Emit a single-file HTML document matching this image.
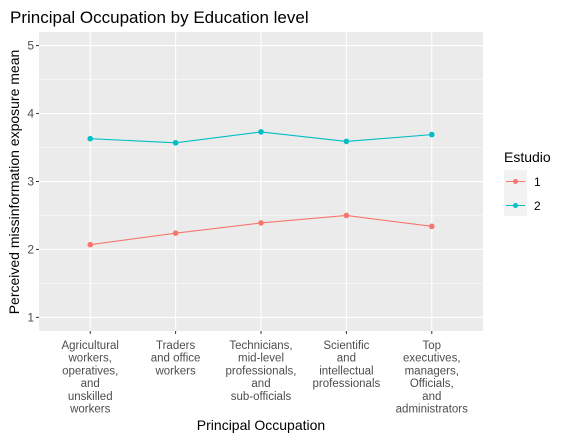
<!DOCTYPE html>
<html><head><meta charset="utf-8"><style>
body{margin:0;background:#fff;}
svg{display:block;font-family:"Liberation Sans",Arial,sans-serif;}
</style></head><body>
<svg id="chart" width="568" height="440" viewBox="0 0 568 440">
<rect x="0" y="0" width="568" height="440" fill="#fff"/>
<text x="10" y="23" font-size="17" fill="#000">Principal Occupation by Education level</text>
<rect id="panel" x="39" y="32" width="444" height="299" fill="#ebebeb"/>
<g id="grid"></g>
<g id="series"></g>
<g id="axes"></g>
<text transform="translate(19,182) rotate(-90)" text-anchor="middle" font-size="14" fill="#000">Perceived missinformation exposure mean</text>
<text x="261" y="430" text-anchor="middle" font-size="14" fill="#000">Principal Occupation</text>
<g>
<text x="504" y="162" font-size="14" fill="#000">Estudio</text>
<rect x="504" y="170" width="23" height="46" fill="#f2f2f2"/>
<g>
<line x1="506" y1="181.5" x2="525" y2="181.5" stroke="#F8766D" stroke-width="1"/>
<circle cx="515.5" cy="181.5" r="2.5" fill="#F8766D"/>
<text x="534" y="186" font-size="12" fill="#000">1</text></g>
<g>
<line x1="506" y1="205.5" x2="525" y2="205.5" stroke="#00BFC4" stroke-width="1"/>
<circle cx="515.5" cy="205.5" r="2.5" fill="#00BFC4"/>
<text x="534" y="210" font-size="12" fill="#000">2</text></g>
</g>
</svg>
<script>
const categories=[["Agricultural","workers,","operatives,","and","unskilled","workers"],["Traders","and office","workers"],["Technicians,","mid-level","professionals,","and","sub-officials"],["Scientific","and","intellectual","professionals"],["Top","executives,","managers,","Officials,","and","administrators"]];
const series1=[2.07,2.24,2.39,2.50,2.34];
const series2=[3.63,3.57,3.73,3.59,3.69];
const yTicks=[1,2,3,4,5];
const seriesNames=["1","2"];
const colors=["#F8766D","#00BFC4"];
const NS="http://www.w3.org/2000/svg";
const px0=39,pw=444,py0=32,ph=299;
const n=categories.length;
const xs=i=>px0+pw*(i+0.6)/(n+0.2);
const ys=v=>py0+ph*(5.2-v)/4.4;
function mk(tag,attrs,parent){const e=document.createElementNS(NS,tag);for(const k in attrs)e.setAttribute(k,attrs[k]);parent.appendChild(e);return e;}
const grid=document.getElementById('grid'),axes=document.getElementById('axes'),ser=document.getElementById('series');
for(let k=0;k<yTicks.length-1;k++){const v=(yTicks[k]+yTicks[k+1])/2;
const l=mk('line',{x1:px0,x2:px0+pw,y1:ys(v),y2:ys(v),stroke:'#fff','stroke-width':0.5},grid);

}
yTicks.forEach(v=>{
const l=mk('line',{x1:px0,x2:px0+pw,y1:ys(v),y2:ys(v),stroke:'#fff','stroke-width':1.1},grid);


const t=mk('line',{x1:px0-3,x2:px0,y1:ys(v),y2:ys(v),stroke:'#333','stroke-width':1},axes);


const tx=mk('text',{x:px0-5,y:ys(v)+4,'text-anchor':'end','font-size':12,fill:'#4d4d4d'},axes);
tx.textContent=v;

});
categories.forEach((c,i)=>{
const x=xs(i);
const l=mk('line',{x1:x,x2:x,y1:py0,y2:py0+ph,stroke:'#fff','stroke-width':1.1},grid);


const t=mk('line',{x1:x,x2:x,y1:py0+ph,y2:py0+ph+3,stroke:'#333','stroke-width':1},axes);


const tx=mk('text',{'text-anchor':'middle','font-size':11.5,fill:'#4d4d4d'},axes);


c.forEach((line,j)=>{const s=mk('tspan',{x:x,y:349+j*12.7},tx);s.textContent=line;});});
[series1,series2].forEach((vals,si)=>{
const g=mk('g',{},ser);


const p=mk('polyline',{points:vals.map((v,i)=>xs(i)+','+ys(v)).join(' '),fill:'none',stroke:colors[si],'stroke-width':1.1},g);


vals.forEach((v,i)=>{const c=mk('circle',{cx:xs(i),cy:ys(v),r:2.8,fill:colors[si]},g);

});});
</script>
</body></html>
